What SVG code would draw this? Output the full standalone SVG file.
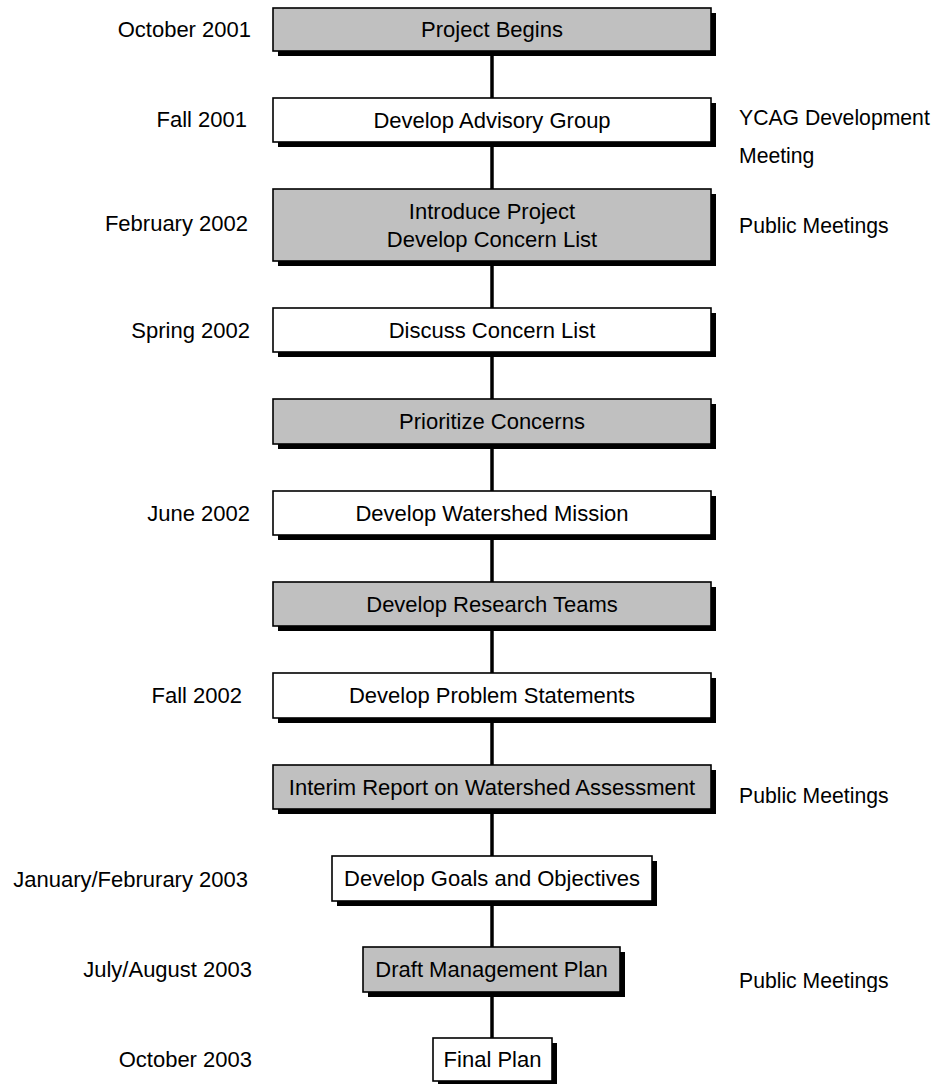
<svg xmlns="http://www.w3.org/2000/svg" width="933" height="1084" viewBox="0 0 933 1084">
<style>
.box{stroke:#000;stroke-width:1.6}
.g{fill:#c0c0c0}
.w{fill:#fff}
.sh{fill:#000}
text{font-family:"Liberation Sans",Arial,sans-serif;font-size:22px;fill:#000}
.c{text-anchor:middle}
.r{text-anchor:end}
.n{font-size:21.2px}
.conn{stroke:#000;stroke-width:3.5;fill:none}
</style>
<defs>
<clipPath id="clipPM"><rect x="700" y="940" width="233" height="52"/></clipPath>
</defs>
<rect width="933" height="1084" fill="#fff"/>
<g id="connectors">
<line class="conn" x1="492" y1="40" x2="492" y2="1050"/>
</g>
<g id="n1"><rect class="sh" x="278" y="13" width="438" height="43"/><rect class="box g" x="273" y="8" width="438" height="43"/><text class="c" x="492" y="37">Project Begins</text></g>
<g id="n2"><rect class="sh" x="278" y="103" width="438" height="44"/><rect class="box w" x="273" y="98" width="438" height="44"/><text class="c" x="492" y="128">Develop Advisory Group</text></g>
<g id="n3"><rect class="sh" x="278" y="194" width="438" height="72"/><rect class="box g" x="273" y="189" width="438" height="72"/><text class="c" x="492" y="219">Introduce Project</text><text class="c" x="492" y="247">Develop Concern List</text></g>
<g id="n4"><rect class="sh" x="278" y="313" width="438" height="44"/><rect class="box w" x="273" y="308" width="438" height="44"/><text class="c" x="492" y="338">Discuss Concern List</text></g>
<g id="n5"><rect class="sh" x="278" y="404" width="438" height="45"/><rect class="box g" x="273" y="399" width="438" height="45"/><text class="c" x="492" y="429">Prioritize Concerns</text></g>
<g id="n6"><rect class="sh" x="278" y="496" width="438" height="44"/><rect class="box w" x="273" y="491" width="438" height="44"/><text class="c" x="492" y="521">Develop Watershed Mission</text></g>
<g id="n7"><rect class="sh" x="278" y="587" width="438" height="44"/><rect class="box g" x="273" y="582" width="438" height="44"/><text class="c" x="492" y="612">Develop Research Teams</text></g>
<g id="n8"><rect class="sh" x="278" y="678" width="438" height="45"/><rect class="box w" x="273" y="673" width="438" height="45"/><text class="c" x="492" y="703">Develop Problem Statements</text></g>
<g id="n9"><rect class="sh" x="278" y="770" width="438" height="44"/><rect class="box g" x="273" y="765" width="438" height="44"/><text class="c" x="492" y="795">Interim Report on Watershed Assessment</text></g>
<g id="n10"><rect class="sh" x="337" y="861" width="320" height="45"/><rect class="box w" x="332" y="856" width="320" height="45"/><text class="c" x="492" y="886">Develop Goals and Objectives</text></g>
<g id="n11"><rect class="sh" x="368" y="952" width="257" height="45"/><rect class="box g" x="363" y="947" width="257" height="45"/><text class="c" x="491.5" y="977">Draft Management Plan</text></g>
<g id="n12"><rect class="sh" x="438" y="1043" width="119" height="43"/><rect class="box w" x="433" y="1038" width="119" height="43"/><text class="c" x="492.5" y="1067">Final Plan</text></g>
<g id="dates">
<text class="r" x="251" y="37">October 2001</text>
<text class="r" x="247" y="127">Fall 2001</text>
<text class="r" x="248" y="231">February 2002</text>
<text class="r" x="250" y="338">Spring 2002</text>
<text class="r" x="250" y="521">June 2002</text>
<text class="r" x="242" y="703">Fall 2002</text>
<text class="r" x="248" y="887">January/Februrary 2003</text>
<text class="r" x="252" y="977">July/August 2003</text>
<text class="r" x="252" y="1067">October 2003</text>
</g>
<g id="notes">
<text class="n" x="739" y="125">YCAG Development</text>
<text class="n" x="739" y="163">Meeting</text>
<text class="n" x="739" y="233">Public Meetings</text>
<text class="n" x="739" y="803">Public Meetings</text>
<text class="n" x="739" y="988" clip-path="url(#clipPM)">Public Meetings</text>
</g>
</svg>
